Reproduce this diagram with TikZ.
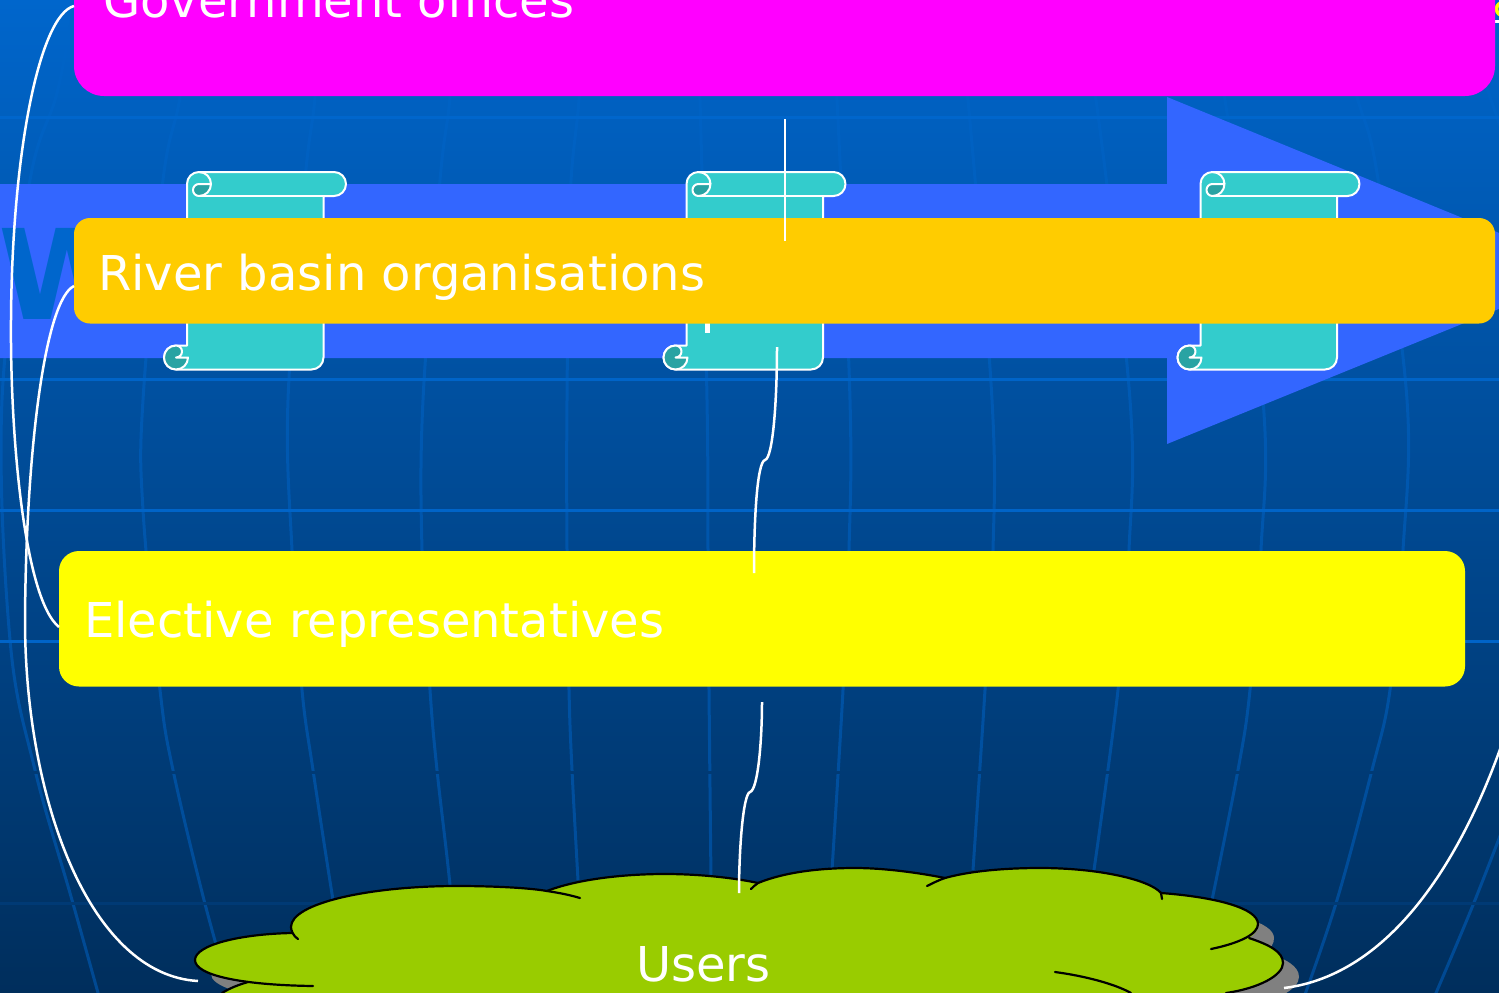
\documentclass[tikz,border=0pt]{standalone}
\usepackage{fontspec}
\setmainfont{DejaVu Sans}
\definecolor{bgtop}{RGB}{0,102,204}
\definecolor{bgbot}{RGB}{0,46,92}
\definecolor{arrowblue}{RGB}{51,102,255}
\definecolor{gridc}{RGB}{0,100,200}
\definecolor{scrollc}{RGB}{51,204,204}
\definecolor{scrolld}{RGB}{41,163,163}
\definecolor{orangec}{RGB}{255,204,0}
\definecolor{cloudc}{RGB}{153,204,0}
\definecolor{shadowc}{RGB}{128,128,128}
\definecolor{magentac}{RGB}{255,0,255}
\definecolor{yellowc}{RGB}{255,255,0}
\tikzset{
  meridian/.style={draw=gridc,line width=3pt,opacity=0.5},
  parallel/.style={line width=3pt},
  boxnode/.style={rounded corners=#1,inner sep=0pt,outer sep=0pt,draw=none},
  boxtext/.style={anchor=base west,inner sep=0pt,text=white,font=\fontsize{48}{48}\selectfont},
  link/.style={draw=white,line width=2.5pt},
  scrollline/.style={draw=white,line width=2pt,line join=round},
  lobe/.style={draw=black,line width=2.2pt,line cap=round}
}
\newcommand{\cloudoutline}{(195,960) .. controls (195,945) and (240,934) .. (292,933) -- (291,927) .. controls (291,903) and (370,886) .. (457,886) .. controls (495,886) and (530,888) .. (547,891) .. controls (575,880) and (620,874) .. (665,874) .. controls (700,874) and (735,878) .. (758,883) .. controls (785,872) and (820,868) .. (855,868) .. controls (885,868) and (920,873) .. (945,878) .. controls (970,871) and (1005,868) .. (1040,868) .. controls (1100,868) and (1150,880) .. (1161,893) .. controls (1215,897) and (1258,908) .. (1258,924) .. controls (1258,930) and (1255,934) .. (1249,938) .. controls (1270,945) and (1283,952) .. (1283,963) .. controls (1283,975) and (1260,988) .. (1226,993) -- (1226,1040) -- (222,1040) -- (222,993) -- (248,982) .. controls (225,980) and (195,972) .. (195,960) -- cycle}
\begin{document}
\begin{tikzpicture}[x=1pt,y=1pt,yscale=-1]
\useasboundingbox (0,0) rectangle (1499,993);
\clip (0,0) rectangle (1499,993);
% background
\fill[top color=bgtop,bottom color=bgbot] (0,0) rectangle (1499,993);
% globe meridians
\foreach \pts in {
 {(75,0)(57,93)(30,180)(2,400)(10,640)(35,770)(72,900)(100,1000)},
 {(190,0)(180,97)(163,180)(143,400)(143,510)(160,690)(173,770)(204,900)(232,1000)},
 {(320,0)(315,97)(305,180)(288,400)(292,550)(302,690)(313,770)(333,900)(350,1000)},
 {(455,0)(450,97)(440,180)(423,400)(422,550)(430,690)(437,770)(450,885)(460,1000)},
 {(585,0)(579,100)(570,200)(567,400)(567,550)(569,690)(572,770)(578,880)},
 {(695,0)(700,100)(707,400)(708,550)(709,690)(711,880)},
 {(830,0)(837,100)(850,400)(849,550)(843,690)(832,870)},
 {(955,0)(968,100)(992,400)(993,550)(985,690)(973,870)},
 {(1075,0)(1096,100)(1130,400)(1129,550)(1118,690)(1094,870)},
 {(1200,0)(1225,100)(1263,400)(1261,550)(1250,690)(1238,770)(1212,900)},
 {(1330,0)(1357,97)(1377,173)(1407,400)(1403,550)(1390,690)(1372,770)(1337,900)(1303,1000)},
 {(1470,40)(1490,97)(1505,140)},
 {(1510,810)(1473,905)(1433,1000)}}{
  \draw[meridian] plot[smooth,tension=0.6] coordinates {\pts};
}
% globe parallels
\foreach \yy/\cc in {117/0066CC,248/0064C8,379/0064C8,510/0064C8,641/0064C8,772/003A75,903/003A75}{
  \definecolor{pc}{HTML}{\cc}
  \draw[parallel,draw=pc] (0,\yy) -- (1499,\yy);
}
% broad arrow
\fill[arrowblue] (-5,184) -- (1167,184) -- (1167,97) -- (1592,271) -- (1167,444) -- (1167,358) -- (-5,358) -- cycle;
\node[anchor=base west,inner sep=0pt,text=bgtop,font=\fontsize{125}{125}\selectfont\bfseries] (wtext) at (-2,319) {W};
% scrolls
\foreach \sx/\nm in {187/sa,686.5/sb,1200.5/sc}{
 \begin{scope}[shift={(\sx,0)}]
  \filldraw[scrollline,fill=scrollc] (12,172) -- (147,172) arc[start angle=-90,end angle=90,radius=12] -- (136.5,196) -- (136.5,357.5) arc[start angle=0,end angle=90,radius=12] -- (-11,369.5) arc[start angle=90,end angle=270,radius=12] -- (0,345.5) -- (0,184) arc[start angle=180,end angle=270,radius=12] -- cycle;
  \filldraw[scrollline,fill=scrolld] (12,184) -- (24,184) arc[start angle=0,end angle=90,radius=12] arc[start angle=90,end angle=270,radius=6] -- cycle;
  \draw[scrollline] (12,172) arc[start angle=-90,end angle=0,radius=12];
  \draw[scrollline] (12,196) -- (136.5,196);
  \filldraw[scrollline,fill=scrolld] (-11,345.5) arc[start angle=270,end angle=90,radius=12] arc[start angle=90,end angle=0,radius=12] -- (-11,357.5) arc[start angle=90,end angle=-90,radius=6] -- cycle;
 \end{scope}
}
% fragments of hidden text
\fill[white] (704.5,323) rectangle (709.5,333);
\draw[yellowc,line width=3.5pt] (1503,9) circle[radius=6.5];
\fill[white] (1495,20) rectangle (1499,23);
% boxes
\node[boxnode=30pt,fill=magentac,minimum width=1421pt,minimum height=196pt] (gov) at (784.5,-2) {};
\node[boxtext] (govtext) at (103,17) {Government offices};
\node[boxnode=16pt,fill=orangec,minimum width=1421pt,minimum height=105.5pt] (river) at (784.5,270.75) {};
\node[boxtext] (rivertext) at (98,290) {River basin organisations};
\node[boxnode=20pt,fill=yellowc,minimum width=1406pt,minimum height=135.5pt] (elect) at (762,618.75) {};
\node[boxtext] (electtext) at (84,637) {Elective representatives};
% cloud
\fill[shadowc,shift={(16,14)}] \cloudoutline;
\fill[cloudc] \cloudoutline;
\draw[lobe] (313,986) .. controls (240,985) and (195,975) .. (195,960) .. controls (195,945) and (240,934) .. (292,933);
\draw[lobe] (298,939) .. controls (293,936) and (291,930) .. (291,927) .. controls (291,903) and (370,886) .. (457,886) .. controls (495,886) and (530,888) .. (547,891) .. controls (560,893) and (570,895) .. (580,898);
\draw[lobe] (547,891) .. controls (575,880) and (620,874) .. (665,874) .. controls (700,874) and (735,878) .. (758,883);
\draw[lobe] (751,889) .. controls (753,887) and (755,885) .. (758,883) .. controls (785,872) and (820,868) .. (855,868) .. controls (885,868) and (920,873) .. (945,878);
\draw[lobe] (927,886) .. controls (933,883) and (939,880) .. (945,878) .. controls (970,871) and (1005,868) .. (1040,868) .. controls (1100,868) and (1150,880) .. (1161,893) -- (1162,899);
\draw[lobe] (1161,893) .. controls (1215,897) and (1258,908) .. (1258,924) .. controls (1258,934) and (1240,943) .. (1211,949);
\draw[lobe] (1249,938) .. controls (1270,945) and (1283,952) .. (1283,963) .. controls (1283,975) and (1260,988) .. (1226,993);
\draw[lobe] (1055,972) .. controls (1085,976) and (1115,984) .. (1131,993);
\draw[lobe] (222,993) .. controls (230,988) and (238,985) .. (248,982);
\node[boxtext] (userstext) at (636,981) {Users};
% connector ends
\coordinate (govL) at (74,6);
\coordinate (electL) at (59,627);
\coordinate (riverL) at (74,286);
\coordinate (cloudL) at (198,981);
\coordinate (cloudR) at (1284,988);
\coordinate (offR) at (1510,720);
\coordinate (govB) at (785,119);
\coordinate (riverT) at (785,241);
\coordinate (riverB) at (777,347);
\coordinate (electT) at (754,573);
\coordinate (electB) at (762,702);
\coordinate (cloudT) at (739,893);
% connectors
\draw[link] (govL) .. controls (40,15) and (12,150) .. (11,320) .. controls (10,440) and (25,600) .. (electL);
\draw[link] (riverL) .. controls (45,300) and (26,450) .. (25,620) .. controls (25,800) and (90,975) .. (cloudL);
\draw[link] (cloudR) .. controls (1390,975) and (1465,860) .. (offR);
\draw[link] (govB) -- (riverT);
\draw[link] (riverB) .. controls (777,400) and (773,458) .. (765,460) .. controls (757,462) and (754,520) .. (electT);
\draw[link] (electB) .. controls (762,740) and (758,790) .. (750,792) .. controls (743,794) and (739,850) .. (cloudT);
\end{tikzpicture}
\end{document}
